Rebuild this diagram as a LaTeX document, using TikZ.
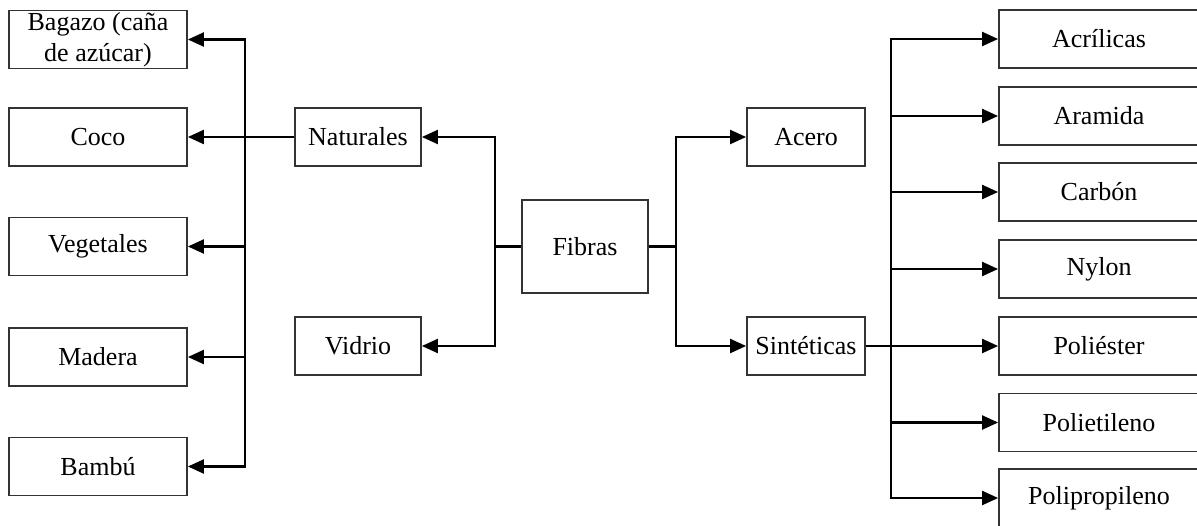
\documentclass[tikz,border=0pt]{standalone}
\usepackage{fontspec}
\setmainfont{Liberation Serif}
\usetikzlibrary{arrows.meta}
\tikzset{
  box/.style={draw=black!80, line width=1.8pt, rectangle, inner sep=0pt, align=center,
    font=\fontsize{26}{31}\selectfont},
  lbox/.style={box, minimum width=178pt, minimum height=58pt},
  mbox/.style={box, minimum width=126pt, minimum height=58pt},
  abox/.style={box, minimum width=118pt, minimum height=58pt},
  rbox/.style={box, minimum width=200pt, minimum height=58pt},
  conn/.style={line width=2.2pt, black},
  arr/.style={conn, -{Triangle[length=16pt,width=14pt]}},
}
\begin{document}
\begin{tikzpicture}[x=1pt,y=-1pt]
\useasboundingbox (0,0) rectangle (1197,525);
\clip (0,0) rectangle (1197,525);
\fill[white] (0,0) rectangle (1197,525);
% left column
\node[lbox] (bag) at (98,39.5) {Bagazo (caña\\de azúcar)};
\node[lbox] (coc) at (98,137) {Coco};
\node[lbox] (veg) at (98,246.5) {Vegetales};
\node[lbox] (mad) at (98,357) {Madera};
\node[lbox] (bam) at (98,466.5) {Bambú};
% middle
\node[mbox] (nat) at (358,137) {Naturales};
\node[mbox] (vid) at (358,346) {Vidrio};
\node[box, minimum width=126pt, minimum height=93pt] (fib) at (585,246.5) {Fibras};
\node[abox] (ace) at (806,137) {Acero};
\node[abox] (sin) at (806,346) {Sintéticas};
% right column
\node[rbox] (acr) at (1099,39) {Acrílicas};
\node[rbox] (ara) at (1099,116) {Aramida};
\node[rbox] (car) at (1099,192) {Carbón};
\node[rbox] (nyl) at (1099,269) {Nylon};
\node[rbox] (pes) at (1099,346) {Poliéster};
\node[rbox] (pet) at (1099,422.5) {Polietileno};
\node[rbox] (ppr) at (1099,498) {Polipropileno};
% junctions
\coordinate (jl) at (245,137);
\coordinate (jf) at (495,246.5);
\coordinate (jr) at (676,246.5);
\coordinate (js) at (891,346);
% connectors left
\draw[conn] (nat.west) -- (jl);
\draw[arr] (jl) |- (bag.east);
\draw[arr] (jl) -- (coc.east);
\draw[arr] (jl) |- (veg.east);
\draw[arr] (jl) |- (mad.east);
\draw[arr] (jl) |- (bam.east);
% connectors from Fibras
\draw[conn] (fib.west) -- (jf);
\draw[arr] (jf) |- (nat.east);
\draw[arr] (jf) |- (vid.east);
\draw[conn] (fib.east) -- (jr);
\draw[arr] (jr) |- (ace.west);
\draw[arr] (jr) |- (sin.west);
% connectors right
\draw[conn] (sin.east) -- (js);
\draw[arr] (js) |- (acr.west);
\draw[arr] (js) |- (ara.west);
\draw[arr] (js) |- (car.west);
\draw[arr] (js) |- (nyl.west);
\draw[arr] (js) -- (pes.west);
\draw[arr] (js) |- (pet.west);
\draw[arr] (js) |- (ppr.west);
\end{tikzpicture}
\end{document}
